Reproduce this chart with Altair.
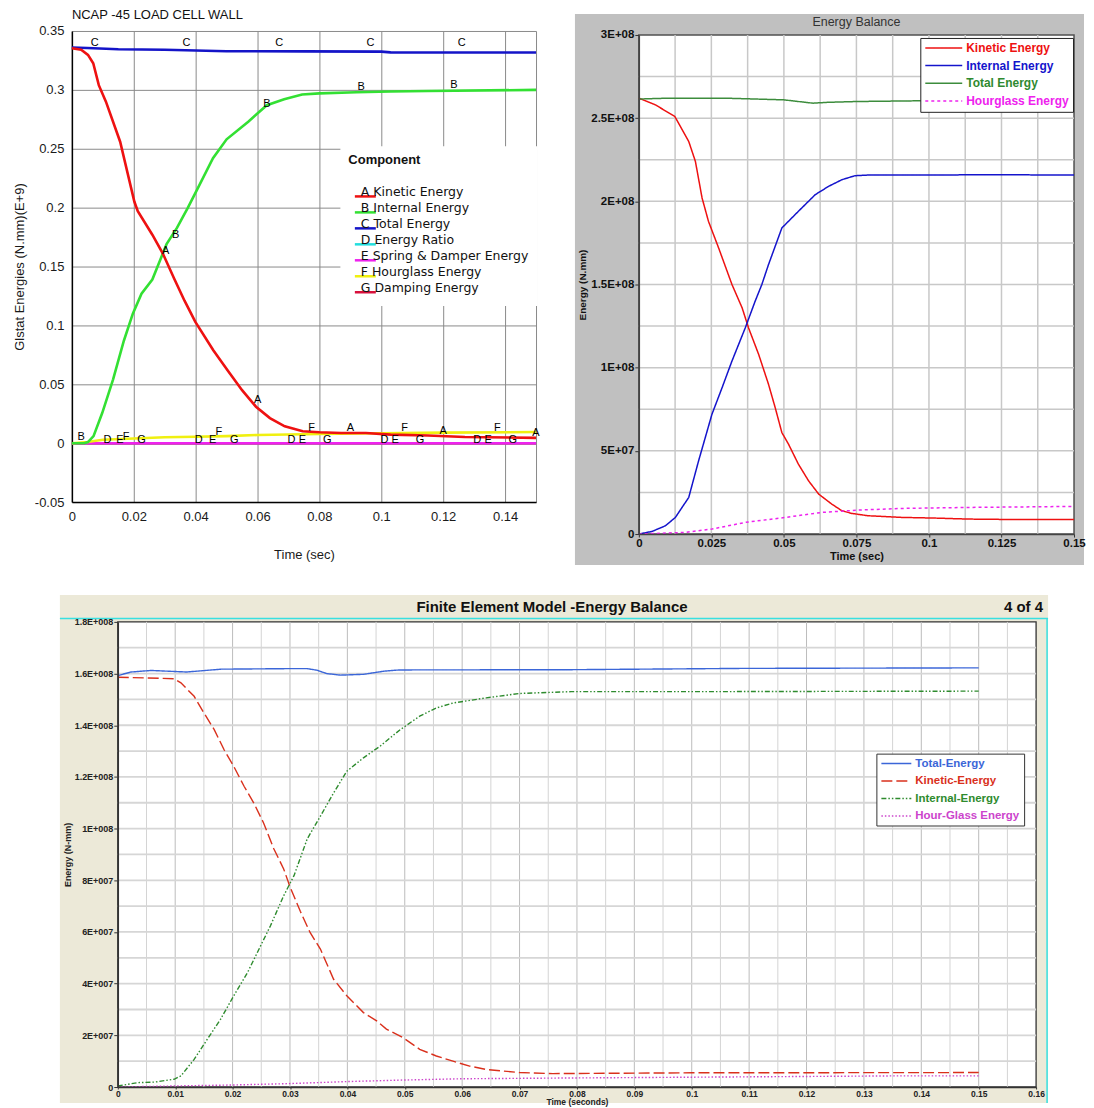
import altair as alt
import pandas as pd

FONT = "Liberation Sans"
FONT_WIDE = "DejaVu Sans"

# ================= Panel 1 : NCAP -45 LOAD CELL WALL (E+9 N.mm) =================
P1_TITLE = "NCAP -45 LOAD CELL WALL"
P1_XTITLE = "Time (sec)"
P1_YTITLE = "Glstat Energies (N.mm)(E+9)"
P1_LEGEND_TITLE = "Component"
P1_SERIES = ["A Kinetic Energy", "B Internal Energy", "C Total Energy", "D Energy Ratio",
             "E Spring & Damper Energy", "F Hourglass Energy", "G Damping Energy"]
P1_COLORS = ["#ee1111", "#33e033", "#1414c8", "#22dede", "#ee22ee", "#f0f010", "#d8103c"]
P1_X_TICKS = [0, 0.02, 0.04, 0.06, 0.08, 0.1, 0.12, 0.14, 0.15]
P1_Y_TICKS = [-0.05, 0, 0.05, 0.1, 0.15, 0.2, 0.25, 0.3, 0.35]

P1_KE_T = [0, 0.003, 0.0052, 0.0069, 0.0087, 0.011, 0.0156, 0.0202, 0.0213, 0.026, 0.0294, 0.033,
           0.0364, 0.0399, 0.0457, 0.0503, 0.055, 0.0595, 0.064, 0.0688, 0.0746, 0.08, 0.087, 0.095,
           0.103, 0.115, 0.127, 0.15]
P1_KE_V = [0.3353, 0.334, 0.3297, 0.3226, 0.304, 0.29, 0.256, 0.205, 0.197, 0.177, 0.161, 0.14,
           0.121, 0.103, 0.079, 0.062, 0.045, 0.031, 0.0213, 0.0143, 0.0101, 0.0093, 0.0087, 0.0087,
           0.0073, 0.0065, 0.0053, 0.0045]
P1_IE_T = [0, 0.004, 0.0052, 0.007, 0.0098, 0.0133, 0.0168, 0.0197, 0.0225, 0.026, 0.0306, 0.034,
           0.0375, 0.041, 0.0456, 0.05, 0.057, 0.063, 0.0686, 0.0744, 0.08, 0.092, 0.103, 0.115, 0.15]
P1_IE_V = [0, 0, 0.001, 0.006, 0.0256, 0.054, 0.087, 0.11, 0.127, 0.139, 0.169, 0.183,
           0.2, 0.218, 0.242, 0.258, 0.273, 0.287, 0.292, 0.296, 0.297, 0.298, 0.2986, 0.299, 0.3]
P1_TE_T = [0, 0.005, 0.015, 0.03, 0.05, 0.075, 0.1, 0.103, 0.15]
P1_TE_V = [0.336, 0.3355, 0.3345, 0.334, 0.3328, 0.3327, 0.3325, 0.3318, 0.3317]
P1_HG_T = [0, 0.005, 0.01, 0.02, 0.03, 0.04, 0.05, 0.06, 0.08, 0.1, 0.12, 0.15]
P1_HG_V = [0, 0.001, 0.003, 0.004, 0.005, 0.0055, 0.006, 0.007, 0.0078, 0.0085, 0.009, 0.0095]
P1_ZERO_T = [0, 0.15]
P1_ZERO_V = [0, 0]

P1_MARK_TXT = ["C"] * 5 + ["B"] * 5 + ["A"] * 5 + ["D"] * 5 + ["E"] * 5 + ["F"] * 5 + ["G"] * 5
P1_MARK_T = [0.0074, 0.037, 0.067, 0.0965, 0.126,
             0.003, 0.0335, 0.063, 0.0935, 0.1235,
             0.0303, 0.06, 0.09, 0.12, 0.15,
             0.0115, 0.041, 0.071, 0.101, 0.131,
             0.0155, 0.0455, 0.0745, 0.1045, 0.1345,
             0.0175, 0.0475, 0.0775, 0.1075, 0.1375,
             0.0225, 0.0525, 0.0825, 0.1125, 0.1425]
P1_MARK_V = [0.3395] * 5 + \
            [0.005, 0.177, 0.288, 0.3025, 0.3045] + \
            [0.163, 0.0365, 0.0128, 0.01, 0.0085] + \
            [0.0025] * 5 + [0.0025] * 5 + \
            [0.0055, 0.0095, 0.0125, 0.0125, 0.0125] + \
            [0.0025] * 5

# ================= Panel 2 : Energy Balance (N.mm, values in units of 1E+08) =================
P2_TITLE = "Energy Balance"
P2_XTITLE = "Time (sec)"
P2_YTITLE = "Energy (N.mm)"
P2_SERIES = ["Kinetic Energy", "Internal Energy", "Total Energy", "Hourglass Energy"]
P2_COLORS = ["#ee1111", "#1414cc", "#3c8c3c", "#ee22ee"]
P2_LABEL_COLORS = ["#ee1111", "#1414cc", "#2f8a2f", "#ee22ee"]
P2_DASH = [[1, 0], [1, 0], [1, 0], [3, 3]]
P2_X_TICKS = [0, 0.025, 0.05, 0.075, 0.1, 0.125, 0.15]
P2_Y_TICKS = [0, 5e7, 1e8, 1.5e8, 2e8, 2.5e8, 3e8]
P2_Y_LABELS = ["0", "5E+07", "1E+08", "1.5E+08", "2E+08", "2.5E+08", "3E+08"]
P2_GRID_X = [0.0125, 0.025, 0.0375, 0.05, 0.0625, 0.075, 0.0875, 0.1, 0.1125, 0.125, 0.1375]
P2_GRID_Y = [2.5e7, 5e7, 7.5e7, 1e8, 1.25e8, 1.5e8, 1.75e8, 2e8, 2.25e8, 2.5e8, 2.75e8]

P2_KE_T = [0, 0.0057, 0.0124, 0.0172, 0.0195, 0.0218, 0.024, 0.0275, 0.0321, 0.0356, 0.0378, 0.0413,
           0.0447, 0.047, 0.0493, 0.0516, 0.055, 0.0585, 0.062, 0.0665, 0.07, 0.0734, 0.079, 0.0906,
           0.102, 0.1135, 0.125, 0.1365, 0.15]
P2_KE_V = [2.62, 2.58, 2.51, 2.36, 2.24, 2.02, 1.88, 1.72, 1.50, 1.36, 1.24, 1.08,
           0.90, 0.76, 0.61, 0.54, 0.42, 0.32, 0.24, 0.18, 0.14, 0.124, 0.11, 0.10,
           0.096, 0.09, 0.088, 0.088, 0.088]
P2_IE_T = [0, 0.0046, 0.0092, 0.0126, 0.0172, 0.0206, 0.0252, 0.0287, 0.0321, 0.0367, 0.0401, 0.0424,
           0.0447, 0.0493, 0.055, 0.0608, 0.0654, 0.07, 0.0745, 0.079, 0.1, 0.12, 0.15]
P2_IE_V = [0, 0.016, 0.05, 0.10, 0.22, 0.44, 0.72, 0.88, 1.04, 1.24, 1.40, 1.50,
           1.62, 1.84, 1.94, 2.04, 2.09, 2.13, 2.154, 2.158, 2.158, 2.16, 2.158]
P2_TE_T = [0, 0.01, 0.02, 0.03, 0.04, 0.05, 0.055, 0.06, 0.065, 0.075, 0.1, 0.125, 0.15]
P2_TE_V = [2.615, 2.62, 2.62, 2.62, 2.615, 2.61, 2.60, 2.59, 2.595, 2.60, 2.605, 2.61, 2.61]
P2_HG_T = [0, 0.016, 0.0252, 0.0367, 0.0505, 0.063, 0.0757, 0.0906, 0.1135, 0.15]
P2_HG_V = [0, 0.01, 0.03, 0.07, 0.10, 0.13, 0.144, 0.154, 0.16, 0.166]

# ================= Panel 3 : Finite Element Model -Energy Balance (N-mm, units of 1E+08) =================
P3_TITLE = "Finite Element Model -Energy Balance"
P3_PAGE = "4 of 4"
P3_XTITLE = "Time (seconds)"
P3_YTITLE = "Energy (N-mm)"
P3_SERIES = ["Total-Energy", "Kinetic-Energy", "Internal-Energy", "Hour-Glass Energy"]
P3_COLORS = ["#3b66d8", "#d9301c", "#2e8b2e", "#cc44cc"]
P3_DASH = [[1, 0], [11, 4], [5, 2, 1.5, 2, 1.5, 2], [1.5, 2]]
P3_X_TICKS = [0, 0.01, 0.02, 0.03, 0.04, 0.05, 0.06, 0.07, 0.08, 0.09, 0.1, 0.11, 0.12, 0.13,
              0.14, 0.15, 0.16]
P3_Y_TICKS = [0, 2e7, 4e7, 6e7, 8e7, 1e8, 1.2e8, 1.4e8, 1.6e8, 1.8e8]
P3_Y_LABELS = ["0", "2E+007", "4E+007", "6E+007", "8E+007", "1E+008", "1.2E+008", "1.4E+008",
               "1.6E+008", "1.8E+008"]
P3_GRID_X_MAJOR = [0.01, 0.02, 0.03, 0.04, 0.05, 0.06, 0.07, 0.08, 0.09, 0.1, 0.11, 0.12, 0.13,
                   0.14, 0.15]
P3_GRID_X_MINOR = [0.005, 0.015, 0.025, 0.035, 0.045, 0.055, 0.065, 0.075, 0.085, 0.095, 0.105,
                   0.115, 0.125, 0.135, 0.145, 0.155]
P3_GRID_Y = [1e7, 2e7, 3e7, 4e7, 5e7, 6e7, 7e7, 8e7, 9e7, 1e8, 1.1e8, 1.2e8, 1.3e8, 1.4e8,
             1.5e8, 1.6e8, 1.7e8]

P3_TE_T = [0, 0.0023, 0.0058, 0.012, 0.018, 0.0237, 0.0295, 0.033, 0.0347, 0.0364, 0.0388, 0.0428,
           0.0463, 0.049, 0.079, 0.109, 0.149, 0.15]
P3_TE_V = [1.592, 1.606, 1.612, 1.606, 1.617, 1.618, 1.619, 1.619, 1.613, 1.60, 1.594, 1.597,
           1.609, 1.614, 1.615, 1.62, 1.622, 1.622]
P3_KE_T = [0, 0.0098, 0.011, 0.0133, 0.015, 0.0168, 0.0185, 0.0202, 0.022, 0.0237, 0.0254, 0.0272,
           0.0289, 0.03, 0.0318, 0.0335, 0.0353, 0.0376, 0.0399, 0.0428, 0.0451, 0.0468, 0.0497,
           0.0526, 0.0555, 0.0584, 0.0613, 0.0642, 0.07, 0.0758, 0.1, 0.15]
P3_KE_V = [1.586, 1.58, 1.564, 1.512, 1.448, 1.383, 1.306, 1.241, 1.164, 1.099, 1.022, 0.921,
           0.844, 0.775, 0.68, 0.598, 0.534, 0.417, 0.353, 0.288, 0.256, 0.224, 0.191,
           0.146, 0.12, 0.10, 0.081, 0.068, 0.056, 0.052, 0.055, 0.056]
P3_IE_T = [0, 0.0035, 0.0064, 0.0098, 0.011, 0.0133, 0.0156, 0.0179, 0.0202, 0.0226, 0.0249, 0.0266,
           0.0289, 0.0307, 0.033, 0.0353, 0.0376, 0.0399, 0.0428, 0.0457, 0.0492, 0.0526, 0.0555,
           0.0584, 0.0642, 0.07, 0.079, 0.1, 0.15]
P3_IE_V = [0.004, 0.017, 0.019, 0.03, 0.043, 0.107, 0.185, 0.262, 0.353, 0.443, 0.547, 0.624,
           0.74, 0.818, 0.96, 1.048, 1.138, 1.222, 1.274, 1.319, 1.383, 1.435, 1.467,
           1.486, 1.506, 1.523, 1.53, 1.53, 1.532]
P3_HG_T = [0, 0.0098, 0.0202, 0.0295, 0.0399, 0.0497, 0.06, 0.079, 0.135, 0.15]
P3_HG_V = [0, 0.004, 0.008, 0.013, 0.021, 0.027, 0.032, 0.035, 0.043, 0.043]

E8 = 1e8

# ---------------------------------------------------------------------------------
ONE = pd.DataFrame({"k": [0]})


def fixed_rect(x1, x2, y1, y2, **style):
    return alt.Chart(ONE).mark_rect(**style).encode(
        x=alt.value(x1), x2=alt.value(x2), y=alt.value(y1), y2=alt.value(y2))


def fixed_text(txt, x, y, **style):
    return alt.Chart(ONE).mark_text(text=txt, **style).encode(x=alt.value(x), y=alt.value(y))


def hrule(x1, x2, y, **style):
    return alt.Chart(ONE).mark_rule(**style).encode(x=alt.value(x1), x2=alt.value(x2), y=alt.value(y))


def vrule(x, y1, y2, **style):
    return alt.Chart(ONE).mark_rule(**style).encode(x=alt.value(x), y=alt.value(y1), y2=alt.value(y2))


def long_df(series, ts, vs, scale=1.0):
    rows = []
    for s, t, v in zip(series, ts, vs):
        for a, b in zip(t, v):
            rows.append({"series": s, "t": a, "v": b * scale})
    return pd.DataFrame(rows)


def tick_expr(vals, labs):
    e = "''"
    for v, l in reversed(list(zip(vals, labs))):
        e = f"datum.value === {v!r} ? '{l}' : ({e})"
    return e


def color_expr(keys, cols):
    e = "'#000000'"
    for k, c in reversed(list(zip(keys, cols))):
        e = f"datum.label === '{k}' ? '{c}' : ({e})"
    return e


# ================================ Panel 1 ================================
W1, H1 = 419, 472
sx1 = alt.Scale(domain=[0, 0.15], range=[-46, 419], nice=False, zero=False)
sy1 = alt.Scale(domain=[-0.05, 0.35], nice=False, zero=False)
ax1 = alt.Axis(values=P1_X_TICKS, labelExpr="datum.value === 0.15 ? '' : datum.value + ''",
               grid=True, gridColor="#8a8a8a", gridWidth=1, ticks=False,
               domainColor="#000000", domainWidth=1.5, labelFont=FONT, labelFontSize=13,
               labelColor="#1a1a1a", labelPadding=8.5, labelFlush=False, labelOverlap=False,
               title=P1_XTITLE, titleFont=FONT, titleFontSize=13, titleFontWeight="normal",
               titleColor="#1a1a1a", titlePadding=25)
ay1 = alt.Axis(values=P1_Y_TICKS, labelExpr="datum.value + ''", grid=True, gridColor="#8a8a8a",
               gridWidth=1, ticks=False, domainColor="#000000", domainWidth=1.5, offset=46,
               labelFont=FONT, labelFontSize=13, labelColor="#1a1a1a", labelPadding=8,
               labelOverlap=False, title=P1_YTITLE, titleFont=FONT, titleFontSize=13,
               titleFontWeight="normal", titleColor="#1a1a1a", titlePadding=8)
leg1 = alt.Legend(title=P1_LEGEND_TITLE, orient="none", legendX=223, legendY=115.5,
                  fillColor="white", padding=8, symbolType="M0.083,0L7.083,0", symbolSize=36,
                  symbolStrokeWidth=2.5, labelOffset=0, labelBaseline="alphabetic",
                  labelFont=FONT_WIDE, labelFontSize=12.5, labelColor="#111111", rowPadding=0,
                  labelLimit=400, titleFont=FONT, titleFontSize=13, titleFontWeight="bold",
                  titleColor="#111111", titlePadding=23)

df1 = long_df(
    ["D Energy Ratio", "G Damping Energy", "E Spring & Damper Energy", "F Hourglass Energy",
     "C Total Energy", "B Internal Energy", "A Kinetic Energy"],
    [P1_ZERO_T, P1_ZERO_T, P1_ZERO_T, P1_HG_T, P1_TE_T, P1_IE_T, P1_KE_T],
    [P1_ZERO_V, P1_ZERO_V, P1_ZERO_V, P1_HG_V, P1_TE_V, P1_IE_V, P1_KE_V])
lines1 = alt.Chart(df1).mark_line(strokeWidth=2.6).encode(
    x=alt.X("t:Q", scale=sx1, axis=ax1),
    y=alt.Y("v:Q", scale=sy1, axis=ay1),
    color=alt.Color("series:N", scale=alt.Scale(domain=P1_SERIES, range=P1_COLORS), legend=leg1),
)
dfm1 = pd.DataFrame({"txt": P1_MARK_TXT, "t": P1_MARK_T, "v": P1_MARK_V})
marks1 = alt.Chart(dfm1).mark_text(font=FONT, fontSize=11, color="#000000").encode(
    x=alt.X("t:Q", scale=sx1, axis=ax1), y=alt.Y("v:Q", scale=sy1, axis=ay1), text="txt:N")
edge1 = fixed_rect(-110, -108, 0, 545, opacity=0)          # invisible left/bottom extent marker
title1 = fixed_text(P1_TITLE, -46, -15.5, align="left", baseline="middle", font=FONT,
                    fontSize=13, color="#111111")
c1 = alt.layer(edge1, lines1, marks1, title1).properties(width=W1, height=H1)

# ================================ Panel 2 ================================
W2, H2 = 436, 504
sx2 = alt.Scale(domain=[0, 0.15], nice=False, zero=False)
sy2 = alt.Scale(domain=[0, 3e8], range=[504, 4], nice=False, zero=False)
ax2 = alt.Axis(values=P2_X_TICKS, labelExpr="datum.value + ''", grid=False, ticks=True,
               tickSize=3, tickColor="#333333", domainColor="#444444", domainWidth=1.5,
               labelFont=FONT, labelFontSize=11.5, labelFontWeight="bold", labelColor="#111111",
               labelPadding=0.5, labelFlush=False, labelOverlap=False, title=P2_XTITLE,
               titleFont=FONT, titleFontSize=11, titleFontWeight="bold", titleColor="#111111",
               titlePadding=1.5, zindex=1)
ay2 = alt.Axis(values=P2_Y_TICKS, labelExpr=tick_expr(P2_Y_TICKS, P2_Y_LABELS), grid=False,
               ticks=True, tickSize=4, tickColor="#333333", domainColor="#444444", domainWidth=1.5,
               labelFont=FONT, labelFontSize=11.5, labelFontWeight="bold", labelColor="#111111",
               labelPadding=1, labelOverlap=False, title=P2_YTITLE, titleFont=FONT,
               titleFontSize=10, titleFontWeight="bold", titleColor="#111111", titlePadding=3,
               zindex=1)
leg2 = alt.Legend(title=None, orient="none", legendX=282, legendY=7, fillColor="white",
                  strokeColor="#222222", padding=4, symbolType="M-1,0L6.4,0", symbolSize=100,
                  symbolStrokeWidth=1.5, labelOffset=30, labelFont=FONT, labelFontSize=12,
                  labelFontWeight="bold", labelColor={"expr": color_expr(P2_SERIES, P2_LABEL_COLORS)},
                  rowPadding=5.7, labelLimit=400)

df2 = long_df(P2_SERIES, [P2_KE_T, P2_IE_T, P2_TE_T, P2_HG_T],
              [P2_KE_V, P2_IE_V, P2_TE_V, P2_HG_V], E8)
lines2 = alt.Chart(df2).mark_line(strokeWidth=1.5).encode(
    x=alt.X("t:Q", scale=sx2, axis=ax2),
    y=alt.Y("v:Q", scale=sy2, axis=ay2),
    color=alt.Color("series:N", scale=alt.Scale(domain=P2_SERIES, range=P2_COLORS), legend=leg2),
    strokeDash=alt.StrokeDash("series:N", scale=alt.Scale(domain=P2_SERIES, range=P2_DASH),
                              legend=leg2),
)
gridx2 = alt.Chart(pd.DataFrame({"gx": P2_GRID_X})).mark_rule(color="#c8c8c8", strokeWidth=1.5).encode(
    x=alt.X("gx:Q", scale=sx2, axis=ax2),
    y=alt.YDatum(0, scale=sy2, axis=ay2), y2=alt.Y2Datum(3e8))
gridy2 = alt.Chart(pd.DataFrame({"gy": P2_GRID_Y})).mark_rule(color="#c8c8c8", strokeWidth=1.5).encode(
    y=alt.Y("gy:Q", scale=sy2, axis=ay2))
panel2 = fixed_rect(-64, 446, -17, 535, fill="#c0c0c0")
plot2 = fixed_rect(0, W2, 4, H2, fill="white", stroke="#505050", strokeWidth=1.5)
title2 = fixed_text(P2_TITLE, W2 / 2, -9, align="center", baseline="middle", font=FONT,
                    fontSize=12.5, color="#333333")
c2 = alt.layer(panel2, plot2, gridx2, gridy2, lines2, title2).properties(width=W2, height=H2)

# ================================ Panel 3 ================================
W3, H3 = 920, 466
sx3 = alt.Scale(domain=[0, 0.16], nice=False, zero=False)
sy3 = alt.Scale(domain=[0, 1.8e8], nice=False, zero=False)
ax3 = alt.Axis(values=P3_X_TICKS, labelExpr="datum.value + ''", grid=False, ticks=True,
               tickSize=2, tickColor="#333333", domainColor="#333333", domainWidth=1.5,
               labelFont=FONT, labelFontSize=8.5, labelFontWeight="bold", labelColor="#222222",
               labelPadding=0, labelFlush=False, labelOverlap=False, title=P3_XTITLE,
               titleFont=FONT, titleFontSize=8.5, titleFontWeight="bold", titleColor="#222222",
               titleBaseline="middle", titleY=15, zindex=1)
ay3 = alt.Axis(values=P3_Y_TICKS, labelExpr=tick_expr(P3_Y_TICKS, P3_Y_LABELS), grid=False,
               ticks=True, tickSize=4, tickColor="#333333", domainColor="#333333", domainWidth=1.5,
               labelFont=FONT, labelFontSize=9, labelFontWeight="bold", labelColor="#222222",
               labelPadding=1, labelOverlap=False, title=P3_YTITLE, titleFont=FONT,
               titleFontSize=9, titleFontWeight="bold", titleColor="#222222", titlePadding=2,
               zindex=1)
leg3 = alt.Legend(title=None, orient="none", legendX=760, legendY=132, fillColor="white",
                  strokeColor="#333333", padding=4, symbolType="M-1,0L5,0", symbolSize=100,
                  symbolStrokeWidth=1.5, labelOffset=23, labelFont=FONT, labelFontSize=11.5,
                  labelFontWeight="bold", labelColor={"expr": color_expr(P3_SERIES, P3_COLORS)},
                  rowPadding=5.5, labelLimit=400)

df3 = long_df(P3_SERIES, [P3_TE_T, P3_KE_T, P3_IE_T, P3_HG_T],
              [P3_TE_V, P3_KE_V, P3_IE_V, P3_HG_V], E8)
lines3 = alt.Chart(df3).mark_line(strokeWidth=1.4).encode(
    x=alt.X("t:Q", scale=sx3, axis=ax3),
    y=alt.Y("v:Q", scale=sy3, axis=ay3),
    color=alt.Color("series:N", scale=alt.Scale(domain=P3_SERIES, range=P3_COLORS), legend=leg3),
    strokeDash=alt.StrokeDash("series:N", scale=alt.Scale(domain=P3_SERIES, range=P3_DASH),
                              legend=leg3),
)
gridx3a = alt.Chart(pd.DataFrame({"gx": P3_GRID_X_MINOR})).mark_rule(color="#d4d4d4", strokeWidth=1).encode(
    x=alt.X("gx:Q", scale=sx3, axis=ax3))
gridx3b = alt.Chart(pd.DataFrame({"gx": P3_GRID_X_MAJOR})).mark_rule(color="#bcbcbc", strokeWidth=1).encode(
    x=alt.X("gx:Q", scale=sx3, axis=ax3))
gridy3 = alt.Chart(pd.DataFrame({"gy": P3_GRID_Y})).mark_rule(color="#d6d6d6", strokeWidth=1.8).encode(
    y=alt.Y("gy:Q", scale=sy3, axis=ay3))
edge3 = fixed_rect(0, 2, -47, -45, opacity=0)              # invisible top extent marker
panel3 = fixed_rect(-58, 932, -27, 482, fill="#ece9d8")
cyan_h = hrule(-58, 932, -3.5, color="#38e0e0", strokeWidth=1.5)
cyan_v = vrule(931, -3.5, 482, color="#38e0e0", strokeWidth=1.5)
plot3 = fixed_rect(0, W3, 0, H3, fill="white", stroke="#333333", strokeWidth=1.3)
title3 = fixed_text(P3_TITLE, 435, -15, align="center", baseline="middle", font=FONT,
                    fontSize=15, fontWeight="bold", color="#111111")
page3 = fixed_text(P3_PAGE, 927, -15, align="right", baseline="middle", font=FONT,
                   fontSize=15, fontWeight="bold", color="#111111")
c3 = alt.layer(edge3, panel3, cyan_h, cyan_v, plot3, gridx3a, gridx3b, gridy3, lines3,
               title3, page3).properties(width=W3, height=H3)

# ================================ Assemble ================================
RES = dict(x="independent", y="independent", color="independent", strokeDash="independent")
top = alt.hconcat(c1, c2, spacing=103, bounds="flush").resolve_scale(**RES)
chart = (alt.vconcat(top, c3, spacing=0).resolve_scale(**RES)
         .properties(padding=0, background="white")
         .configure_view(strokeWidth=0))

chart.save("out.html", embed_options={"renderer": "svg", "actions": False})
